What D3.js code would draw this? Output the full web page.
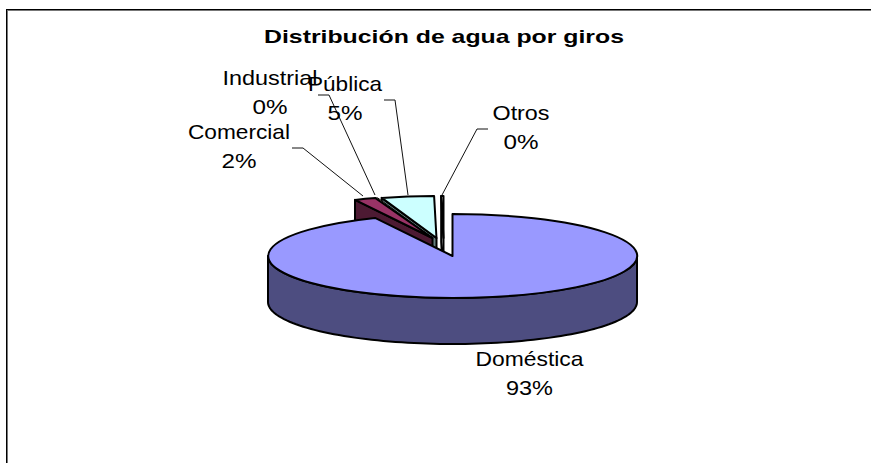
<!DOCTYPE html>
<html><head><meta charset="utf-8">
<style>html,body{margin:0;padding:0;background:#fff}svg{display:block}text{font-family:"Liberation Sans",Arial,sans-serif;fill:#000}</style>
<script src="https://cdn.jsdelivr.net/npm/d3@7"></script>
</head><body><svg id="c" width="871" height="463"></svg>
<script>
const categories = ["Doméstica","Comercial","Industrial","Pública","Otros"];
const values = [93.1,1.9,0.2,4.6,0.2];
const topColors = ["#9999FF","#993366","#FFFFCC","#CCFFFF","#FFFFFF"];
const sideColors = ["#4D4D80","#4D1A33","#4D1A33","#668080","#FFFFFF"];
const titleText = "Distribución de agua por giros";

// layout only
const W=871,H=463,cx=452.5,cy=256,rx=184.5,ry=42,depth=46;
const explode=[[0,0],[-20,-18],[-20,-18],[-16,-18],[-9,-18]];
const strokeWidths=[2,2,1,2,2];
const labelPos=[[529.5,366],[239,139],[270,85],[345,91],[521,120]];
const leaders=[null,[[292,148],[303,148],[363,196]],[[318,95],[329,95],[375,195]],[[384,100],[395,100],[408,195]],[[488,129],[477,129],[442,195]]];
const labelWidths=[108,102,95,74,57];

const svg=d3.select("#c");
svg.append("rect").attr("width",W).attr("height",H).attr("fill","#fff");
svg.append("rect").attr("x",6).attr("y",9).attr("width",W-6).attr("height",1).attr("fill","#000");
svg.append("rect").attr("x",7).attr("y",10).attr("width",W-7).attr("height",1).attr("fill","#777");
svg.append("rect").attr("x",6).attr("y",9).attr("width",1).attr("height",H-9).attr("fill","#000");
svg.append("rect").attr("x",7).attr("y",10).attr("width",1).attr("height",H-10).attr("fill","#777");

svg.append("text").attr("x",444).attr("y",43).attr("text-anchor","middle")
  .attr("font-size",19).attr("font-weight","bold").attr("textLength",360).attr("lengthAdjust","spacingAndGlyphs").text(titleText);

const arcs=d3.pie().sort(null).value(d=>d)(values);
const unitArc=d3.arc().innerRadius(0).outerRadius(1);
const px=(a,o,dz=0)=>[cx+o[0]+rx*Math.sin(a),cy+o[1]-ry*Math.cos(a)+dz];
const line=d3.line();
const stroke=(g,i)=>g.attr("stroke","#000").attr("stroke-width",strokeWidths[i]).attr("stroke-linejoin","round");

function drawCutWall(i,angle){
  const o=explode[i];
  const c=[cx+o[0],cy+o[1]],p=px(angle,o);
  svg.append("path").attr("d",line([c,p,[p[0],p[1]+depth],[c[0],c[1]+depth]])+"Z")
    .attr("fill",sideColors[i]).call(stroke,i);
}
function drawTop(i){
  const o=explode[i];
  svg.append("path").attr("d",unitArc(arcs[i]))
    .attr("transform",`translate(${cx+o[0]},${cy+o[1]}) scale(${rx},${ry})`)
    .attr("vector-effect","non-scaling-stroke")
    .attr("fill",topColors[i]).call(stroke,i);
}
// back slices, far to near
[4,3,2,1].forEach(i=>{drawCutWall(i,arcs[i].startAngle);drawTop(i);});

// main slice outer wall then top
const wallAngles=d3.range(Math.PI/2,Math.PI*1.5+0.001,Math.PI/90);
const wall=d3.area().x(a=>px(a,[0,0])[0]).y0(a=>px(a,[0,0])[1]).y1(a=>px(a,[0,0],depth)[1]);
svg.append("path").attr("d",wall(wallAngles)).attr("fill",sideColors[0]).call(stroke,0);
drawTop(0);

// leaders
leaders.forEach(l=>{ if(l) svg.append("path").attr("d",line(l)).attr("fill","none").attr("stroke","#111").attr("stroke-width",1);});

// labels
categories.forEach((c,i)=>{
  const [x,y]=labelPos[i];
  const pct=Math.round(values[i])+"%";
  svg.append("text").attr("x",x).attr("y",y).attr("text-anchor","middle").attr("font-size",21)
    .attr("textLength",labelWidths[i]).attr("lengthAdjust","spacingAndGlyphs").text(c);
  svg.append("text").attr("x",x).attr("y",y+29).attr("text-anchor","middle").attr("font-size",21)
    .attr("textLength",pct.length===3?47:35).attr("lengthAdjust","spacingAndGlyphs").text(pct);
});
</script></body></html>
